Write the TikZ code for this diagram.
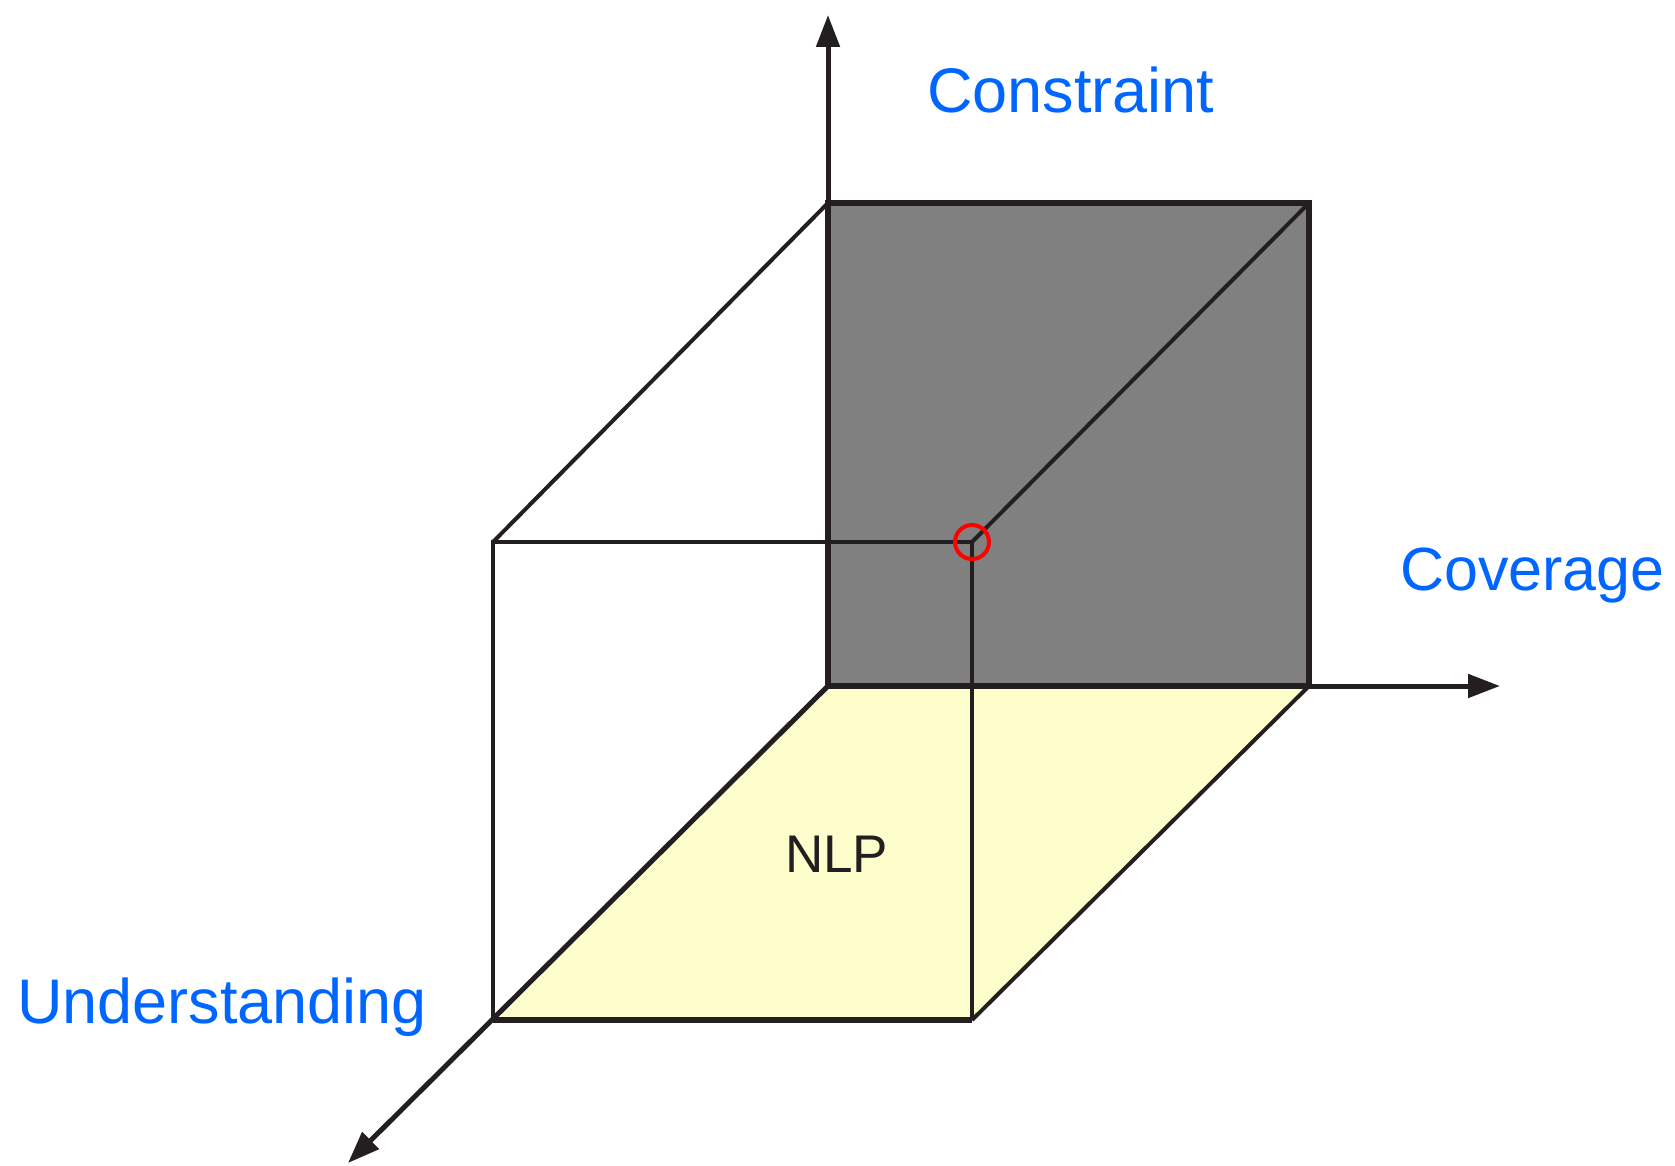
\documentclass[tikz,border=0pt]{standalone}
\usepackage{fontspec}
\setmainfont{Liberation Sans}
\usetikzlibrary{arrows.meta}
\definecolor{axisblue}{HTML}{0066FF}
\definecolor{inkblack}{HTML}{231F20}
\definecolor{facegray}{HTML}{808080}
\definecolor{paleyellow}{HTML}{FEFECC}
\definecolor{markred}{HTML}{FF0000}

\begin{document}
\begin{tikzpicture}[
  x=1pt, y=-1pt,
  axis/.style={line width=5pt, draw=inkblack, -{Triangle[length=32pt,width=23pt]}},
  edge/.style={line width=4pt, draw=inkblack, line join=miter},
  heavy/.style={line width=6.5pt, draw=inkblack},
  axislabel/.style={font=\fontsize{63}{70}\selectfont, text=axisblue, anchor=base west, inner sep=0pt},
]
\useasboundingbox (0,0) rectangle (1675,1166);

% corners of the cube and axis ends
\coordinate (o)     at (828,686);
\coordinate (up)    at (828,15);
\coordinate (right) at (1500,686);
\coordinate (down)  at (348,1163);
\coordinate (btl)   at (828,203);
\coordinate (btr)   at (1309,203);
\coordinate (bbr)   at (1309,686);
\coordinate (ftl)   at (493,542);
\coordinate (ftr)   at (972,542);
\coordinate (fbr)   at (972,1020);
\coordinate (fbl)   at (493,1020);

\fill[facegray] (btl) rectangle (bbr);
\fill[paleyellow] (o) -- (bbr) -- (fbr) -- (fbl) -- cycle;

\draw[axis] (o) -- (up);
\draw[axis] (o) -- (right);
\draw[axis] (o) -- (down);

\draw[edge] (ftl) -- (btl);
\draw[edge] (ftr) -- (btr);
\draw[edge] (bbr) -- (fbr);
\draw[edge] (fbl) -- (ftl) -- (ftr) -- (fbr);
\draw[heavy] (fbl) -- (fbr);
\draw[heavy] (btl) rectangle (bbr);
\draw[markred, line width=4pt] (ftr) circle[radius=17pt];

\node[axislabel] (constraint) at (927,113) {Constraint};
\node[axislabel, font=\fontsize{61}{68}\selectfont] (coverage) at (1400,590) {Coverage};
\node[axislabel] (understanding) at (17,1023) {Understanding};
\node[font=\fontsize{53}{60}\selectfont, text=inkblack, anchor=base west, inner sep=0pt] (nlp) at (785,872) {NLP};
\end{tikzpicture}
\end{document}
